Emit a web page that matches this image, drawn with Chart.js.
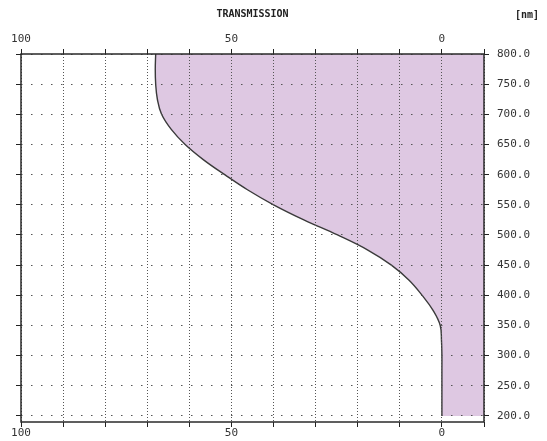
<!DOCTYPE html>
<html>
<head>
<meta charset="utf-8">
<script src="https://cdn.jsdelivr.net/npm/chart.js@4.4.1/dist/chart.umd.min.js"></script>
<style>
    html, body { margin: 0; padding: 0; background: #fff; }
    #wrap { position: relative; width: 547px; height: 441px; }
    #unit {
        position: absolute; left: 515px; top: 9px;
        font: bold 10px "DejaVu Sans Mono", monospace; line-height: 12px; color: #222;
    }
</style>
</head>
<body>
<div id="wrap">
    <canvas id="chart" width="547" height="441"></canvas>
    <div id="unit">[nm]</div>
</div>
<script>
// wavelength (nm) and transmission (%)
const wavelengths = [800, 775, 750, 725, 700, 675, 650, 625, 600, 575, 550, 525, 500,
    475, 450, 425, 400, 375, 350, 325, 300, 275, 250, 225, 200];
const transmission = [68, 68.1, 68, 67.6, 66.6, 64.3, 61, 56.7, 51.6, 46.2, 40, 32.8, 24.8,
    17.6, 12, 7.8, 4.7, 2.1, 0.4, 0.1, 0, 0, 0, 0, 0];

const wavelengthTicks = [200, 250, 300, 350, 400, 450, 500, 550, 600, 650, 700, 750, 800];
const transmissionTicks = [100, 90, 80, 70, 60, 50, 40, 30, 20, 10, 0, -10];
const labelledTransmission = [100, 50, 0];

const labelFont = { family: "'DejaVu Sans Mono', monospace", size: 11 };
const inkColor = '#333';

const points = wavelengths.map((w, i) => ({ x: transmission[i], y: w }));

// solid frame round the plot area
const framePlugin = {
    id: 'frame',
    afterDraw(chart) {
        const { ctx, chartArea: a } = chart;
        ctx.save();
        ctx.strokeStyle = '#2a2a2a';
        ctx.lineWidth = 1.5;
        ctx.strokeRect(a.left, a.top, a.right - a.left, a.bottom - a.top);
        ctx.restore();
    }
};

function setXTicks(scale) {
    scale.ticks = transmissionTicks.map(v => ({ value: v }));
}
function setYTicks(scale) {
    scale.ticks = wavelengthTicks.map(v => ({ value: v }));
}
function xLabel(v) {
    return labelledTransmission.includes(v) ? String(v) : '';
}

const xCommon = {
    type: 'linear',
    min: -10,
    max: 100,
    reverse: true,
    afterBuildTicks: setXTicks,
    border: { display: false, dash: [1, 2] },
    ticks: { callback: xLabel, color: inkColor, font: labelFont, maxRotation: 0, autoSkip: false }
};

new Chart(document.getElementById('chart'), {
    type: 'line',
    data: {
        datasets: [{
            data: points,
            xAxisID: 'x',
            yAxisID: 'y',
            borderColor: '#3a3a3a',
            borderWidth: 1.4,
            backgroundColor: '#dec8e2',
            fill: { value: -10 },
            pointRadius: 0,
            tension: 0.4
        }]
    },
    options: {
        indexAxis: 'y',
        responsive: false,
        animation: false,
        layout: { padding: 0 },
        plugins: {
            legend: { display: false },
            tooltip: { enabled: false }
        },
        scales: {
            x: {
                ...xCommon,
                position: 'bottom',
                afterFit: s => { s.height = 19; },
                grid: { color: '#555', lineWidth: 1, borderDash: [1, 2], z: 1,
                    tickLength: 5, tickColor: '#222', tickBorderDash: [] },
                ticks: { ...xCommon.ticks, padding: 0 }
            },
            xTop: {
                ...xCommon,
                position: 'top',
                afterFit: s => { s.height = 54; },
                title: {
                    display: true,
                    text: 'TRANSMISSION',
                    color: '#222',
                    font: { family: "'DejaVu Sans Mono', monospace", size: 10, weight: 'bold' },
                    padding: { top: 8, bottom: 0 }
                },
                grid: { drawOnChartArea: false, tickLength: 5, tickColor: '#222', tickBorderDash: [] },
                ticks: { ...xCommon.ticks, padding: 3 }
            },
            y: {
                type: 'linear',
                position: 'right',
                min: 190,
                max: 800,
                afterBuildTicks: setYTicks,
                afterFit: s => { s.width = 63; },
                border: { display: false, dash: [1.5, 8.5] },
                grid: { color: '#555', lineWidth: 1, borderDash: [1.5, 8.5], z: 1,
                    tickLength: 5, tickColor: '#222', tickBorderDash: [] },
                ticks: { callback: v => v.toFixed(1), color: inkColor, font: labelFont, padding: 8 }
            },
            yLeft: {
                type: 'linear',
                position: 'left',
                min: 190,
                max: 800,
                afterBuildTicks: setYTicks,
                afterFit: s => { s.width = 21; },
                border: { display: false },
                grid: { drawOnChartArea: false, tickLength: 5, tickColor: '#222', tickBorderDash: [] },
                ticks: { display: false }
            }
        }
    },
    plugins: [framePlugin]
});
</script>
</body>
</html>
